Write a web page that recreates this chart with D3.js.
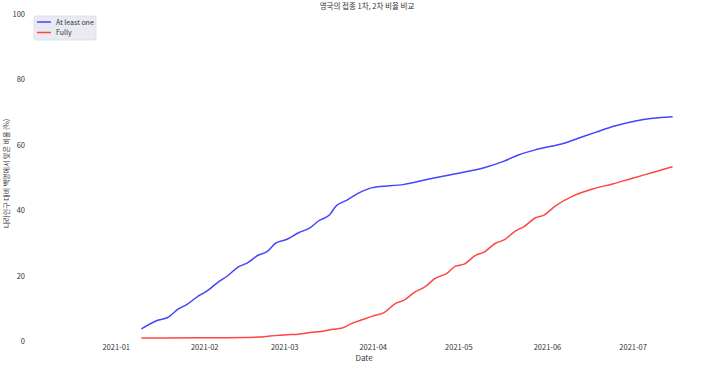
<!DOCTYPE html>
<html>
  <head>
    <meta charset="utf-8" />
    <title>영국의 접종 1차, 2차 비율 비교</title>
    <style>
      body {
        margin: 0;
        background: #fff;
      }
      text {
        font-family: 'Noto Sans CJK KR', 'Noto Sans', sans-serif;
        fill: #333;
      }
      .line {
        fill: none;
        stroke-width: 1.5px;
      }
    </style>
    <script src="https://d3js.org/d3.v7.min.js"></script>
  </head>
  <body>
    <svg width="709" height="367"></svg>
    <script>
      // 데이터
      var firstDates = ['2021-01-10', '2021-01-16', '2021-01-19', '2021-01-23', '2021-01-26', '2021-01-30',
        '2021-02-02', '2021-02-06', '2021-02-09', '2021-02-13', '2021-02-16', '2021-02-20', '2021-02-23',
        '2021-02-26', '2021-03-02', '2021-03-06', '2021-03-10', '2021-03-13', '2021-03-17', '2021-03-19',
        '2021-03-23', '2021-03-27', '2021-04-01', '2021-04-12', '2021-04-22', '2021-05-01', '2021-05-10',
        '2021-05-17', '2021-05-22', '2021-05-29', '2021-06-07', '2021-06-12', '2021-06-18', '2021-06-25',
        '2021-07-02', '2021-07-08', '2021-07-15']
      var firstValues = [3.7, 6.4, 7.1, 9.8, 11.2, 13.8,
        15.3, 18.1, 19.8, 22.7, 23.8, 26.3, 27.3,
        29.9, 31.1, 33.1, 34.6, 36.7, 38.7, 41.1,
        43.1, 45.2, 46.9, 47.9, 49.8, 51.3, 53.0,
        55.0, 56.9, 58.7, 60.5, 62.0, 63.8, 65.8,
        67.3, 68.1, 68.6]

      var fullyDates = ['2021-01-10', '2021-01-30', '2021-02-20', '2021-02-24', '2021-03-02', '2021-03-06',
        '2021-03-11', '2021-03-13', '2021-03-18', '2021-03-21', '2021-03-25', '2021-03-28', '2021-04-01',
        '2021-04-05', '2021-04-09', '2021-04-12', '2021-04-16', '2021-04-19', '2021-04-23', '2021-04-27',
        '2021-04-30', '2021-05-03', '2021-05-07', '2021-05-10', '2021-05-14', '2021-05-17', '2021-05-21',
        '2021-05-24', '2021-05-28', '2021-05-31', '2021-06-04', '2021-06-10', '2021-06-17', '2021-06-24',
        '2021-07-01', '2021-07-08', '2021-07-15']
      var fullyValues = [0.9, 1.0, 1.2, 1.5, 1.9, 2.1,
        2.7, 2.8, 3.6, 3.9, 5.5, 6.4, 7.6,
        8.7, 11.5, 12.5, 15.1, 16.4, 19.2, 20.7,
        22.9, 23.5, 26.2, 27.2, 29.9, 30.9, 33.7,
        35.0, 37.7, 38.5, 41.3, 44.3, 46.5, 48.0,
        49.8, 51.5, 53.3]

      var seriesNames = ['At least one', 'Fully']
      var seriesColors = ['#4444ff', '#ff4444']
      var yTicks = [0, 20, 40, 60, 80, 100]
      var xTickDates = ['2021-01-01', '2021-02-01', '2021-03-01', '2021-04-01', '2021-05-01', '2021-06-01', '2021-07-01']

      var parse = d3.timeParse('%Y-%m-%d')
      var fmt = d3.timeFormat('%Y-%m')

      var svg = d3.select('svg')
      var plotLeft = 30, plotRight = 704, plotTop = 14, plotBottom = 341

      var x = d3.scaleTime()
        .domain([parse('2020-12-02'), parse('2021-07-26')])
        .range([plotLeft, plotRight])
      var y = d3.scaleLinear().domain([0, 100]).range([plotBottom, plotTop])

      var series = [
        { name: seriesNames[0], color: seriesColors[0], dates: firstDates, values: firstValues },
        { name: seriesNames[1], color: seriesColors[1], dates: fullyDates, values: fullyValues },
      ]
      series.forEach(function (s) {
        s.points = s.dates.map(function (d, i) {
          return { date: parse(d), value: s.values[i] }
        })
      })

      // 축 (눈금선 없이 라벨만)
      var xAxis = d3.axisBottom(x)
        .tickValues(xTickDates.map(parse))
        .tickFormat(fmt)
        .tickSize(0)
        .tickPadding(4)
      var gx = svg.append('g').attr('transform', 'translate(0,' + plotBottom + ')').call(xAxis)
      gx.select('.domain').remove()
      gx.selectAll('text').style('font-size', '7.5px').attr('fill', '#333')

      var yAxis = d3.axisLeft(y).tickValues(yTicks).tickSize(0).tickPadding(5)
      var gy = svg.append('g').attr('transform', 'translate(' + plotLeft + ',0)').call(yAxis)
      gy.select('.domain').remove()
      gy.selectAll('text').style('font-size', '7.5px').attr('fill', '#333')

      // 선
      var line = d3.line()
        .x(function (d) { return x(d.date) })
        .y(function (d) { return y(d.value) })
        .curve(d3.curveMonotoneX)

      svg.selectAll('.line')
        .data(series)
        .enter()
        .append('path')
        .attr('class', 'line')
        .attr('d', function (d) { return line(d.points) })
        .style('stroke', function (d) { return d.color })

      // 제목, 축 이름
      svg.append('text')
        .attr('x', (plotLeft + plotRight) / 2)
        .attr('y', 9)
        .attr('text-anchor', 'middle')
        .style('font-size', '7.5px')
        .text('영국의 접종 1차, 2차 비율 비교')

      svg.append('text')
        .attr('x', (plotLeft + plotRight) / 2 - 3)
        .attr('y', 361)
        .attr('text-anchor', 'middle')
        .style('font-size', '8px')
        .text('Date')

      svg.append('text')
        .attr('transform', 'translate(9,' + ((plotTop + plotBottom) / 2 - 4) + ') rotate(-90)')
        .attr('text-anchor', 'middle')
        .style('font-size', '7px')
        .text('나라인구 대비 백명에서 맞은 비율 (%)')

      // 범례
      var legend = svg.append('g').attr('transform', 'translate(34,16)')
      legend.append('rect')
        .attr('width', 62)
        .attr('height', 24)
        .attr('rx', 2)
        .attr('fill', '#eaeaf2')
        .attr('stroke', '#dcdce6')
        .attr('stroke-width', 0.8)
      var items = legend.selectAll('.item')
        .data(series)
        .enter()
        .append('g')
        .attr('class', 'item')
        .attr('transform', function (d, i) { return 'translate(0,' + (6 + i * 10.5) + ')' })
      items.append('line')
        .attr('x1', 3).attr('x2', 17)
        .attr('stroke', function (d) { return d.color })
        .attr('stroke-width', 1.5)
      items.append('text')
        .attr('x', 22)
        .attr('y', 2.7)
        .style('font-size', '7px')
        .text(function (d) { return d.name })
    </script>
  </body>
</html>
